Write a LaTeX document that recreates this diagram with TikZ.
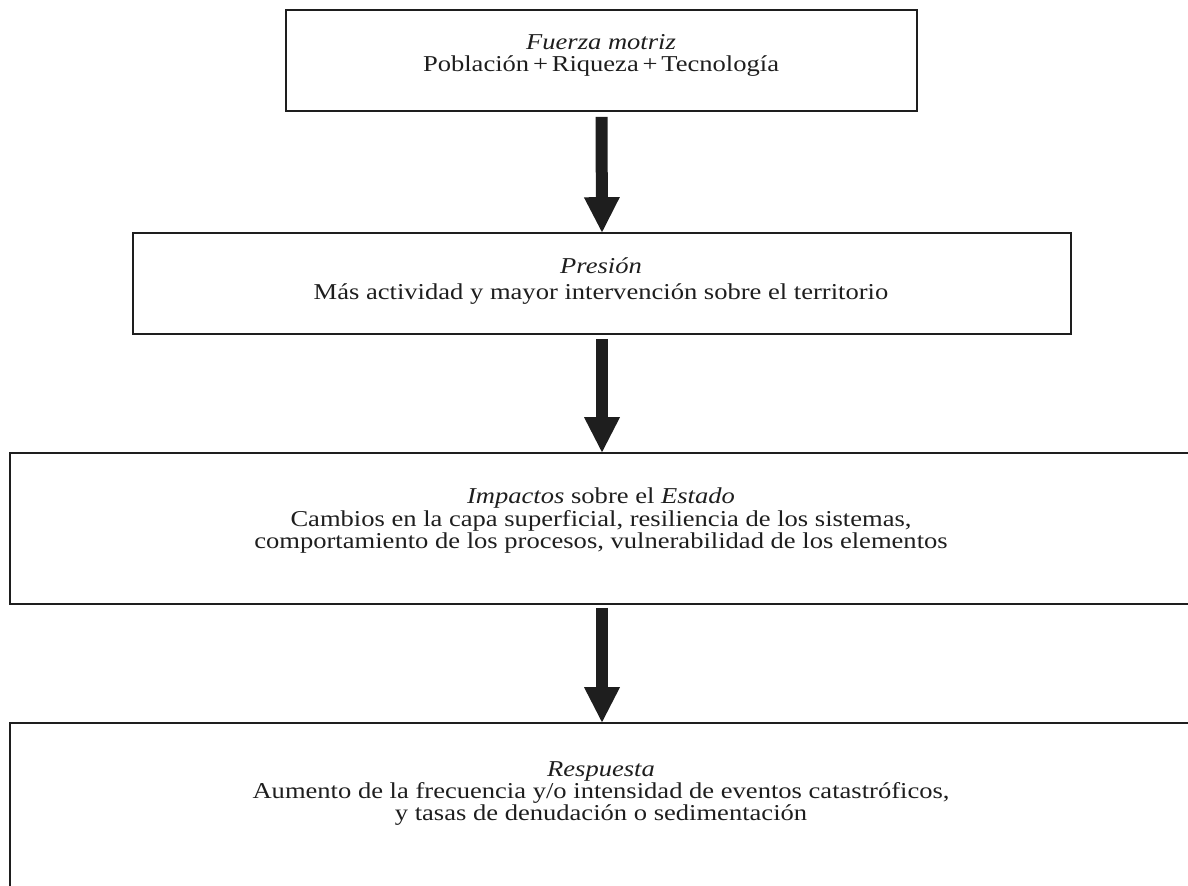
\documentclass[tikz,border=0pt]{standalone}
\usepackage{fontspec}
\setmainfont{Liberation Serif}[FakeStretch=1.17]
\usetikzlibrary{arrows.meta}
\definecolor{ink}{HTML}{1E1E1E}
\tikzset{
  box/.style={draw=ink, line width=0.8pt, inner sep=0pt, minimum width=#1},
  ln/.style={anchor=base, inner sep=0pt, text=ink,
    font=\fontsize{11.35pt}{11pt}\selectfont},
  bigarrow/.style={draw=ink, line width=6pt,
    -{Triangle[length=17.5pt,width=18pt,line width'=0pt]}}
}
\begin{document}
\begin{tikzpicture}[x=0.5pt,y=-0.5pt]
\useasboundingbox (0,0) rectangle (1188,886);
\clip (0,0) rectangle (1188,886);
% boxes
\node[box=315.5pt, minimum height=50.5pt] (b1) at (601.5,60.5) {};
\node[box=469pt, minimum height=50.5pt] (b2) at (602,283.5) {};
\node[box=592pt, minimum height=75.5pt] (b3) at (602,528.5) {};
\node[box=592pt, minimum height=88.5pt] (b4) at (602,811.5) {};
% texts
\node[ln] (t1a) at (601,49.5) {\textit{Fuerza motriz}};
\node[ln] (t1b) at (601,71.5) {Población\,+\,Riqueza\,+\,Tecnología};
\node[ln] (t2a) at (601,273.5) {\textit{Presión}};
\node[ln] (t2b) at (601,300) {Más actividad y mayor intervención sobre el territorio};
\node[ln] (t3a) at (601,504) {\textit{Impactos} sobre el \textit{Estado}};
\node[ln] (t3b) at (601,527) {Cambios en la capa superficial, resiliencia de los sistemas,};
\node[ln] (t3c) at (601,549) {comportamiento de los procesos, vulnerabilidad de los elementos};
\node[ln] (t4a) at (601,776) {\textit{Respuesta}};
\node[ln] (t4b) at (601,798) {Aumento de la frecuencia y/o intensidad de eventos catastróficos,};
\node[ln] (t4c) at (601,820) {y tasas de denudación o sedimentación};
% arrows
\draw[bigarrow] ([yshift=-2.5pt]b1.south) -- (b2.north);
\draw[bigarrow] ([yshift=-2pt]b2.south) -- (b3.north);
\draw[bigarrow] ([yshift=-1.5pt]b3.south) -- (b4.north);
\end{tikzpicture}
\end{document}
